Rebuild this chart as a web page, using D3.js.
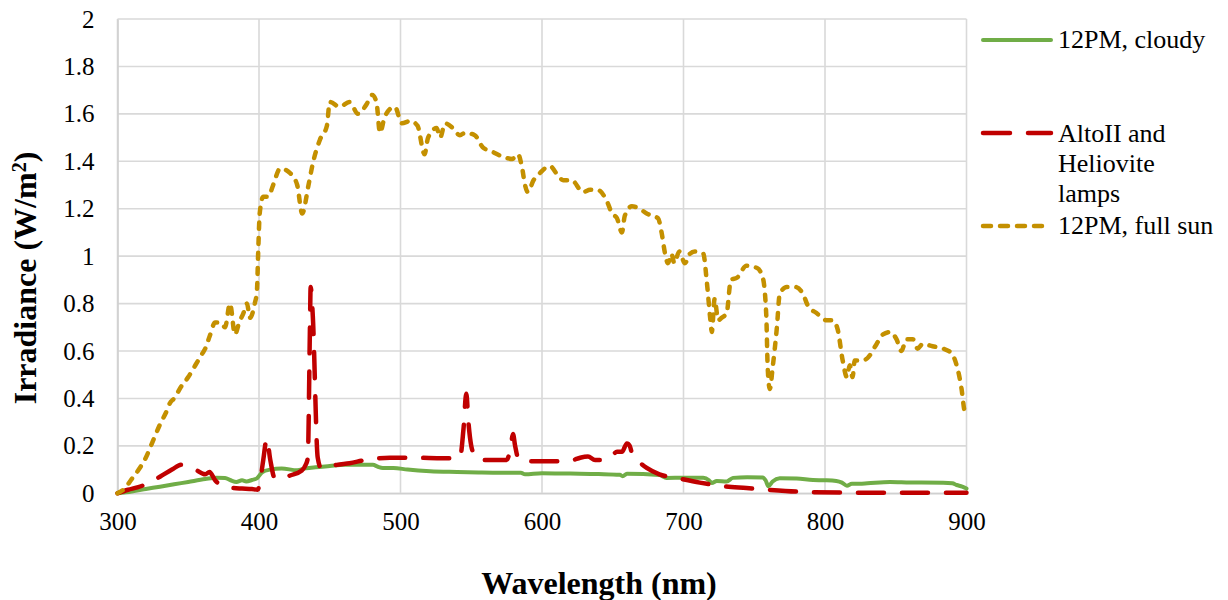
<!DOCTYPE html>
<html>
<head>
<meta charset="utf-8">
<script src="https://cdn.jsdelivr.net/npm/d3@7"></script>
<style>
  body { margin: 0; background: #fff; }
  svg text { font-family: "Liberation Serif", "Times New Roman", serif; fill: #000; }
</style>
</head>
<body>
<svg id="chart" width="1228" height="600"></svg>
<script>
// --- Data ---
const xTicks = [300, 400, 500, 600, 700, 800, 900];
const yTicks = [0, 0.2, 0.4, 0.6, 0.8, 1, 1.2, 1.4, 1.6, 1.8, 2];

const cloudyWl = [300,310,320,330,340,350,362,370,376,380,384,388,391,395,398.5,402.5,408,416,427,433,440,450,460,470,480.5,484,487.5,495,505,521,540,556,571,585,588,600,620,640,655,657,660,683,688,700,714,718,720,723.5,730.5,735,745,756,758,760,763,768,780,791.5,800,808,812,815.5,819,824.5,830,846,860,883.5,890,893,897,900];
const cloudyVal = [0,0.008,0.018,0.028,0.038,0.048,0.06,0.066,0.065,0.055,0.048,0.055,0.05,0.056,0.063,0.09,0.1,0.105,0.097,0.105,0.11,0.115,0.12,0.12,0.12,0.112,0.107,0.107,0.1,0.093,0.09,0.088,0.087,0.087,0.08,0.085,0.083,0.081,0.078,0.072,0.082,0.077,0.065,0.066,0.066,0.055,0.043,0.052,0.05,0.065,0.068,0.067,0.055,0.03,0.05,0.063,0.062,0.056,0.055,0.052,0.045,0.032,0.04,0.04,0.042,0.048,0.046,0.045,0.042,0.035,0.028,0.02];

const lampWl = [300,307.5,314,321,330,338.5,345,349,355,362,365,369,376,382,388,395,399,401,403,405.5,408,411,415,422,430,433,434.5,436,436.5,438,441.5,444,455,464,475,492.5,510,530,542,544.5,546.5,548,550,552.5,556,575,578,579.5,581,583,586,608,617.5,622,627,632.5,637.5,645,648,653,656.5,660,662,664,669,674,683,695,711.5,728,744.5,759,780,815,850,900];
const lampVal = [0,0.015,0.025,0.04,0.07,0.1,0.12,0.115,0.1,0.08,0.09,0.055,0.027,0.022,0.02,0.018,0.015,0.06,0.14,0.23,0.14,0.065,0.06,0.075,0.095,0.12,0.15,0.7,0.87,0.75,0.15,0.105,0.12,0.127,0.14,0.15,0.15,0.148,0.15,0.27,0.42,0.3,0.2,0.16,0.14,0.14,0.2,0.25,0.2,0.15,0.135,0.135,0.135,0.14,0.15,0.155,0.14,0.14,0.148,0.175,0.175,0.21,0.2,0.16,0.13,0.107,0.08,0.065,0.045,0.03,0.022,0.015,0.007,0.003,0.002,0.002];

const sunWl = [300,305,310,315,320,325,330,335,337,340,345,350,355,360,362,365,369,373,376,379.5,383,386,389,391.5,393.6,397,398.5,399.5,400.5,403,406.5,410,415,422,427,430.5,435,438,443,448,450,457,464,470,476,480,483,485.5,489,496,501,507,512,517,519.5,525.5,528,531.5,537,542,545.5,552.5,558,565,572,579,583,586,588,590,594,598.5,602,605.5,612.5,615,621,629,634,639,646,649.5,653,656.5,658.5,663.5,669,674,678,682,684.5,687,689,691.5,693.5,697,701,704.5,708,714,716.5,719,720,722,724.5,727,730.5,733.5,738,744.5,752,756,758.5,759.5,761,763,766,768,773,779,784.5,788,794,801,805.5,809,812.5,815.5,817.5,819.5,821,826,830,836.5,841,846,850.5,854,857.5,862,865.5,869,876,883.5,889.5,893,896.5,898.5,900];
const sunVal = [0,0.02,0.06,0.1,0.15,0.22,0.29,0.35,0.38,0.4,0.45,0.49,0.54,0.59,0.61,0.66,0.72,0.72,0.7,0.8,0.67,0.72,0.76,0.8,0.74,0.8,0.85,1.03,1.18,1.25,1.25,1.3,1.37,1.35,1.3,1.18,1.3,1.39,1.49,1.55,1.65,1.63,1.65,1.6,1.64,1.68,1.65,1.52,1.59,1.63,1.56,1.57,1.55,1.43,1.5,1.54,1.5,1.56,1.54,1.51,1.52,1.51,1.46,1.44,1.42,1.41,1.43,1.37,1.3,1.27,1.32,1.35,1.37,1.38,1.33,1.32,1.32,1.27,1.28,1.28,1.23,1.18,1.16,1.1,1.17,1.21,1.2,1.18,1.17,1.16,1.1,1.01,0.97,1.01,0.97,1.02,0.97,1.01,1.02,1.01,0.89,0.73,0.68,0.82,0.73,0.74,0.76,0.9,0.91,0.96,0.95,0.91,0.75,0.53,0.44,0.53,0.7,0.84,0.87,0.87,0.84,0.79,0.76,0.73,0.73,0.69,0.56,0.49,0.54,0.49,0.56,0.56,0.57,0.63,0.67,0.68,0.65,0.6,0.65,0.65,0.61,0.63,0.62,0.61,0.59,0.54,0.44,0.35,0.33];

const seriesNames = ["12PM, cloudy", "AltoII and Heliovite lamps", "12PM, full sun"];

// --- Styles ---
const STYLE = [
  { color: "#70ad47", width: 4,   dash: null },
  { color: "#c00000", width: 4.5, dash: "26,18" },
  { color: "#c49000", width: 4.5, dash: "6,9" }
];

const svg = d3.select("#chart");
const x = d3.scaleLinear().domain([300, 900]).range([117.5, 966.5]);
const y = d3.scaleLinear().domain([0, 2]).range([493.3, 19]);

// --- Grid ---
const grid = svg.append("g");
grid.selectAll(".gx").data(xTicks).join("line")
  .attr("x1", d => x(d)).attr("x2", d => x(d))
  .attr("y1", y(2)).attr("y2", y(0))
  .attr("stroke", "#d9d9d9").attr("stroke-width", 1.6);
grid.selectAll(".gy").data(yTicks).join("line")
  .attr("x1", x(300)).attr("x2", x(900))
  .attr("y1", d => y(d)).attr("y2", d => y(d))
  .attr("stroke", "#d9d9d9").attr("stroke-width", 1.6);

// --- Axes ---
const xAxis = svg.append("g")
  .attr("transform", `translate(0,${y(0)})`)
  .call(d3.axisBottom(x).tickValues(xTicks).tickSize(0).tickPadding(19).tickFormat(d3.format("d")));
const yAxis = svg.append("g")
  .attr("transform", `translate(${x(300)},0)`)
  .call(d3.axisLeft(y).tickValues(yTicks).tickSize(0).tickPadding(23).tickFormat(d => String(d)));
[xAxis, yAxis].forEach(a => {
  a.select(".domain").attr("stroke", "#d0d0d0").attr("stroke-width", 1.6);
  a.selectAll("text").style("font-family", '"Liberation Serif", "Times New Roman", serif')
    .style("font-size", "25px").attr("fill", "#000");
});

// --- Lines ---
const line = d3.line().x(d => x(d[0])).y(d => y(d[1])).curve(d3.curveMonotoneX);
const data = [
  d3.zip(cloudyWl, cloudyVal),
  d3.zip(lampWl, lampVal),
  d3.zip(sunWl, sunVal)
];
data.forEach((pts, i) => {
  svg.append("path")
    .datum(pts)
    .attr("d", line)
    .attr("fill", "none")
    .attr("stroke", STYLE[i].color)
    .attr("stroke-width", STYLE[i].width)
    .attr("stroke-linecap", "round")
    .attr("stroke-linejoin", "round")
    .attr("stroke-dasharray", STYLE[i].dash);
});

// --- Axis titles ---
svg.append("text")
  .attr("x", 599).attr("y", 594)
  .attr("text-anchor", "middle")
  .style("font-size", "32px").style("font-weight", "bold")
  .text("Wavelength (nm)");

const yt = svg.append("text")
  .attr("transform", "translate(36,278) rotate(-90)")
  .attr("text-anchor", "middle")
  .style("font-size", "32px").style("font-weight", "bold");
yt.append("tspan").text("Irradiance (W/m");
yt.append("tspan").attr("dy", -10).style("font-size", "20px").text("2");
yt.append("tspan").attr("dy", 10).text(")");

// --- Legend ---
const legend = [
  { y: 40,  lines: ["12PM, cloudy"], textY: 48 },
  { y: 133, lines: ["AltoII and", "Heliovite", "lamps"], textY: 142 },
  { y: 226, lines: ["12PM, full sun"], textY: 234 }
];
legend.forEach((l, i) => {
  svg.append("line")
    .attr("x1", 983).attr("x2", 1051)
    .attr("y1", l.y).attr("y2", l.y)
    .attr("stroke", STYLE[i].color)
    .attr("stroke-width", STYLE[i].width)
    .attr("stroke-linecap", "round")
    .attr("stroke-dasharray", i === 1 ? "27,18" : i === 2 ? "8,9" : null);
  const t = svg.append("text").attr("x", 1058).attr("y", l.textY).style("font-size", "26px");
  l.lines.forEach((s, k) => {
    t.append("tspan").attr("x", 1058).attr("dy", k === 0 ? 0 : 30).text(s);
  });
});
</script>
</body>
</html>
